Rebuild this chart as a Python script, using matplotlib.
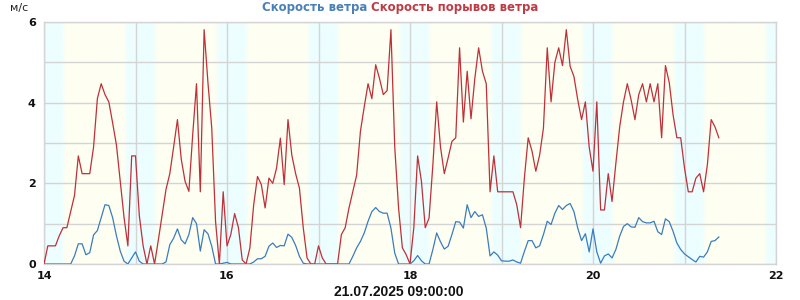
import numpy as np
import matplotlib
matplotlib.use("Agg")
import matplotlib.pyplot as plt

# ---- data (hourly, starting 14.07 00:00) ----
start_day = 14
gust = [
    0, 0.45, 0.45, 0.45, 0.7, 0.9, 0.9, 1.3, 1.7, 2.68, 2.24, 2.24, 2.24, 2.9, 4.1, 4.47, 4.2, 4.02, 3.5, 2.95, 2.05, 1.15, 0.45, 2.68,
    2.68, 1.2, 0.45, 0, 0.45, 0, 0.6, 1.22, 1.85, 2.24, 2.9, 3.58, 2.6, 2.05, 1.8, 3.2, 4.47, 1.79, 5.81, 4.5, 3.37, 1.05, 0, 1.79,
    0.45, 0.73, 1.25, 0.9, 0.1, 0, 0.4, 1.47, 2.17, 1.97, 1.39, 2.13, 2.0, 2.38, 3.12, 1.97, 3.58, 2.7, 2.24, 1.88, 0.9, 0.15, 0, 0,
    0.45, 0.15, 0, 0, 0, 0, 0.73, 0.9, 1.39, 1.79, 2.2, 3.29, 3.9, 4.47, 4.1, 4.94, 4.6, 4.2, 4.3, 5.81, 2.9, 1.39, 0.4, 0.23,
    0, 0.9, 2.68, 2.05, 0.9, 1.14, 2.46, 4.02, 2.9, 2.24, 2.63, 3.04, 3.13, 5.36, 3.52, 4.78, 3.6, 4.6, 5.36, 4.78, 4.47, 1.79, 2.68, 1.79,
    1.79, 1.79, 1.79, 1.79, 1.47, 0.9, 2.13, 3.13, 2.8, 2.3, 2.7, 3.37, 5.36, 4.02, 5.0, 5.36, 4.92, 5.81, 4.9, 4.65, 4.07, 3.58, 4.02, 2.9,
    2.3, 4.02, 1.34, 1.34, 2.24, 1.55, 2.5, 3.4, 4.02, 4.47, 4.07, 3.58, 4.2, 4.47, 4.02, 4.47, 4.02, 4.47, 3.13, 4.92, 4.5, 3.7, 3.13, 3.13,
    2.38, 1.79, 1.79, 2.13, 2.24, 1.79, 2.46, 3.58, 3.4, 3.13,
]
speed = [
    0, 0, 0, 0, 0, 0, 0, 0, 0.2, 0.5, 0.5, 0.23, 0.28, 0.72, 0.83, 1.15, 1.47, 1.45, 1.15, 0.7, 0.32, 0.07, 0, 0.15,
    0.3, 0.07, 0, 0, 0, 0, 0, 0, 0.05, 0.48, 0.64, 0.87, 0.6, 0.5, 0.73, 1.15, 1.0, 0.32, 0.85, 0.75, 0.44, 0, 0, 0.02,
    0.04, 0, 0, 0, 0, 0, 0, 0.05, 0.13, 0.13, 0.19, 0.44, 0.52, 0.41, 0.46, 0.45, 0.74, 0.66, 0.46, 0.19, 0.02, 0, 0, 0,
    0, 0, 0, 0, 0, 0, 0, 0, 0, 0.19, 0.4, 0.56, 0.77, 1.06, 1.3, 1.4, 1.3, 1.26, 1.26, 0.89, 0.27, 0, 0, 0,
    0, 0.08, 0.21, 0.08, 0, 0, 0.36, 0.77, 0.55, 0.37, 0.44, 0.73, 1.05, 1.04, 0.89, 1.47, 1.15, 1.3, 1.18, 1.22, 0.89, 0.2, 0.3, 0.22,
    0.08, 0.07, 0.07, 0.1, 0.05, 0.02, 0.31, 0.58, 0.58, 0.4, 0.45, 0.73, 1.06, 0.98, 1.26, 1.45, 1.35, 1.45, 1.5, 1.3, 0.89, 0.58, 0.75, 0.3,
    0.87, 0.3, 0.02, 0.2, 0.25, 0.15, 0.36, 0.69, 0.93, 1.0, 0.92, 0.91, 1.15, 1.05, 1.02, 1.02, 1.06, 0.8, 0.73, 1.12, 1.05, 0.81, 0.52, 0.36,
    0.25, 0.18, 0.11, 0.05, 0.19, 0.17, 0.3, 0.56, 0.58, 0.67,
]
x_ticks = [14, 16, 18, 20, 22]
y_ticks = [0, 2, 4, 6]
title_speed = "Скорость ветра"
title_gust = "Скорость порывов ветра"
unit_label = "м/с"
time_label = "21.07.2025 09:00:00"

# night shading (hour of day)
night_full_start, night_full_end = 21.9, 4.6
twilight = 1.0

days = start_day + np.arange(len(gust)) / 24.0

fig = plt.figure(figsize=(8, 3), dpi=100)
ax = fig.add_axes([44 / 800, 36 / 300, 732 / 800, 242 / 300])

# background day/night gradient
t = np.linspace(14, 22, 2000)
hod = (t - np.floor(t)) * 24
w = np.zeros_like(hod)
w[(hod >= night_full_start) | (hod <= night_full_end)] = 1
m = (hod > night_full_end) & (hod < night_full_end + twilight)
w[m] = 1 - (hod[m] - night_full_end) / twilight
m = (hod > night_full_start - twilight) & (hod < night_full_start)
w[m] = (hod[m] - (night_full_start - twilight)) / twilight
cyan = np.array([0xED, 0xFE, 0xFF]) / 255
yel = np.array([0xFE, 0xFF, 0xF2]) / 255
img = w[None, :, None] * cyan + (1 - w[None, :, None]) * yel
ax.imshow(img, extent=[14, 22, 0, 6], aspect="auto", zorder=0, interpolation="bilinear")

ax.set_xlim(14, 22)
ax.set_ylim(0, 6)
ax.set_xticks(x_ticks)
ax.set_xticks(np.arange(14, 23), minor=True)
ax.set_yticks(np.arange(0, 7), minor=True)
ax.set_yticks(y_ticks)
ax.grid(True, which="both", color="#D4D4D4", linewidth=1, zorder=1)
ax.set_axisbelow(False)
for s in ax.spines.values():
    s.set_color("#D4D4D4")
    s.set_linewidth(1)
ax.tick_params(which="both", length=0)
ax.tick_params(axis="x", pad=5)
ax.tick_params(axis="y", pad=6)
for lab in ax.get_xticklabels() + ax.get_yticklabels():
    lab.set_fontweight("bold")
    lab.set_fontsize(8)
    lab.set_color("#111111")

ax.plot(days, gust, color="#BF3038", linewidth=0.9, zorder=3)
ax.plot(days, speed, color="#3A7DBE", linewidth=0.9, zorder=4)

fig.text(367 / 800, 0.975, title_speed, color="#4A80B8", fontsize=8.5,
         fontweight="bold", ha="right", va="center")
fig.text(371 / 800, 0.975, title_gust, color="#BF3C44", fontsize=8.5,
         fontweight="bold", ha="left", va="center")
fig.text(10 / 800, 0.972, unit_label, color="#222222", fontsize=8,
         ha="left", va="center")
fig.text(399 / 800, 0.027, time_label, color="#111111", fontsize=10,
         fontweight="bold", ha="center", va="center", family="Liberation Sans")

fig.savefig("out.png", dpi=100)
